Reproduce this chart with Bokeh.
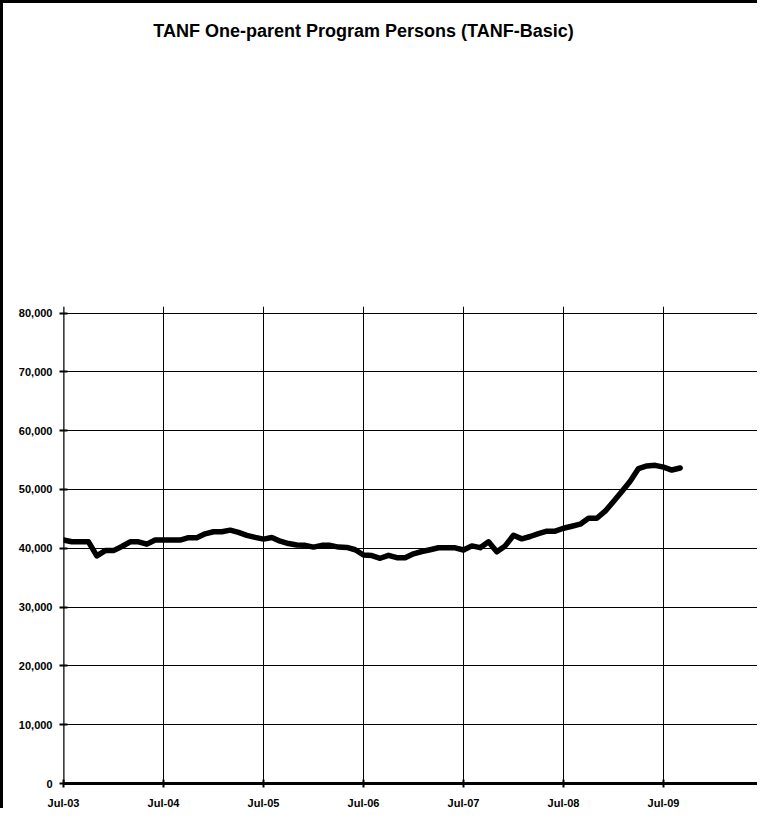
from bokeh.plotting import figure
from bokeh.models import Range1d, FixedTicker, Label, NumeralTickFormatter
from bokeh.embed import file_html
from bokeh.resources import INLINE

# ---- data (monthly, Jul-03 .. Sep-09) ----
persons = [41400, 41100, 41100, 41100, 38700, 39600, 39600, 40300, 41100, 41100,
           40700, 41400, 41400, 41400, 41400, 41800, 41800, 42450, 42800, 42800,
           43080, 42700, 42200, 41850, 41550, 41840, 41200, 40800, 40550, 40500,
           40200, 40500, 40500, 40200, 40150, 39750, 38850, 38750, 38300, 38800,
           38400, 38400, 39050, 39450, 39750, 40080, 40080, 40080, 39700, 40400,
           40100, 41100, 39400, 40400, 42200, 41600, 42000, 42500, 42900, 42900,
           43400, 43750, 44100, 45100, 45100, 46300, 47950, 49650, 51400, 53550,
           54000, 54100, 53800, 53300, 53650]
month_index = list(range(len(persons)))  # 0 = Jul-03
tick_positions = [0, 12, 24, 36, 48, 60, 72]
tick_labels = ["Jul-03", "Jul-04", "Jul-05", "Jul-06", "Jul-07", "Jul-08", "Jul-09"]
y_ticks = [0, 10000, 20000, 30000, 40000, 50000, 60000, 70000, 80000]
title_text = "TANF One-parent Program Persons (TANF-Basic)"

FONT = "Liberation Sans"
Y_AXIS_TOP = 81070      # top of the value axis
Y_VIEW_TOP = 132630     # frame extends up to the title area

p = figure(width=757, height=808, output_backend="svg", toolbar_location=None,
           x_range=Range1d(0, 83.4), y_range=Range1d(0, Y_VIEW_TOP),
           min_border_left=60, min_border_right=2, min_border_top=0,
           min_border_bottom=26)
p.styles = {"border-top": "3px solid black", "border-left": "3px solid black"}
p.background_fill_color = "white"
p.border_fill_color = "white"
p.outline_line_color = None

# vertical grid lines and value-axis line (limited to the axis height)
p.segment(x0=tick_positions, y0=[0] * len(tick_positions),
          x1=tick_positions, y1=[Y_AXIS_TOP] * len(tick_positions),
          line_color="black", line_width=1)
p.segment(x0=[0], y0=[0], x1=[0], y1=[Y_AXIS_TOP], line_color="black", line_width=2)

p.line(month_index, persons, line_color="black", line_width=5.5,
       line_join="round", line_cap="round")

# axes
p.xaxis.ticker = FixedTicker(ticks=tick_positions)
p.xaxis.major_label_overrides = {t: l for t, l in zip(tick_positions, tick_labels)}
p.yaxis.ticker = FixedTicker(ticks=y_ticks)
p.yaxis.formatter = NumeralTickFormatter(format="0,0")
for ax in (p.xaxis, p.yaxis):
    ax.axis_line_color = "black"
    ax.major_tick_line_color = "black"
    ax.major_tick_line_width = 2
    ax.major_tick_in = 4
    ax.major_tick_out = 4
    ax.minor_tick_line_color = None
    ax.major_label_text_font = FONT
    ax.major_label_text_font_style = "bold"
    ax.major_label_text_font_size = "11px"
    ax.major_label_text_color = "black"
p.xaxis.axis_line_width = 3
p.yaxis.axis_line_color = None
p.xaxis.major_label_standoff = 9
p.yaxis.major_label_standoff = 7

# grid
p.xgrid.grid_line_color = None
p.ygrid.ticker = FixedTicker(ticks=y_ticks)
p.ygrid.grid_line_color = "black"
p.ygrid.grid_line_width = 1

# title
title = Label(x=36.0, y=128000, text=title_text, text_align="center",
              text_baseline="alphabetic", text_font=FONT, text_font_style="bold",
              text_font_size="18px", text_color="black")
p.add_layout(title)

open("out.html", "w").write(file_html(p, INLINE))
